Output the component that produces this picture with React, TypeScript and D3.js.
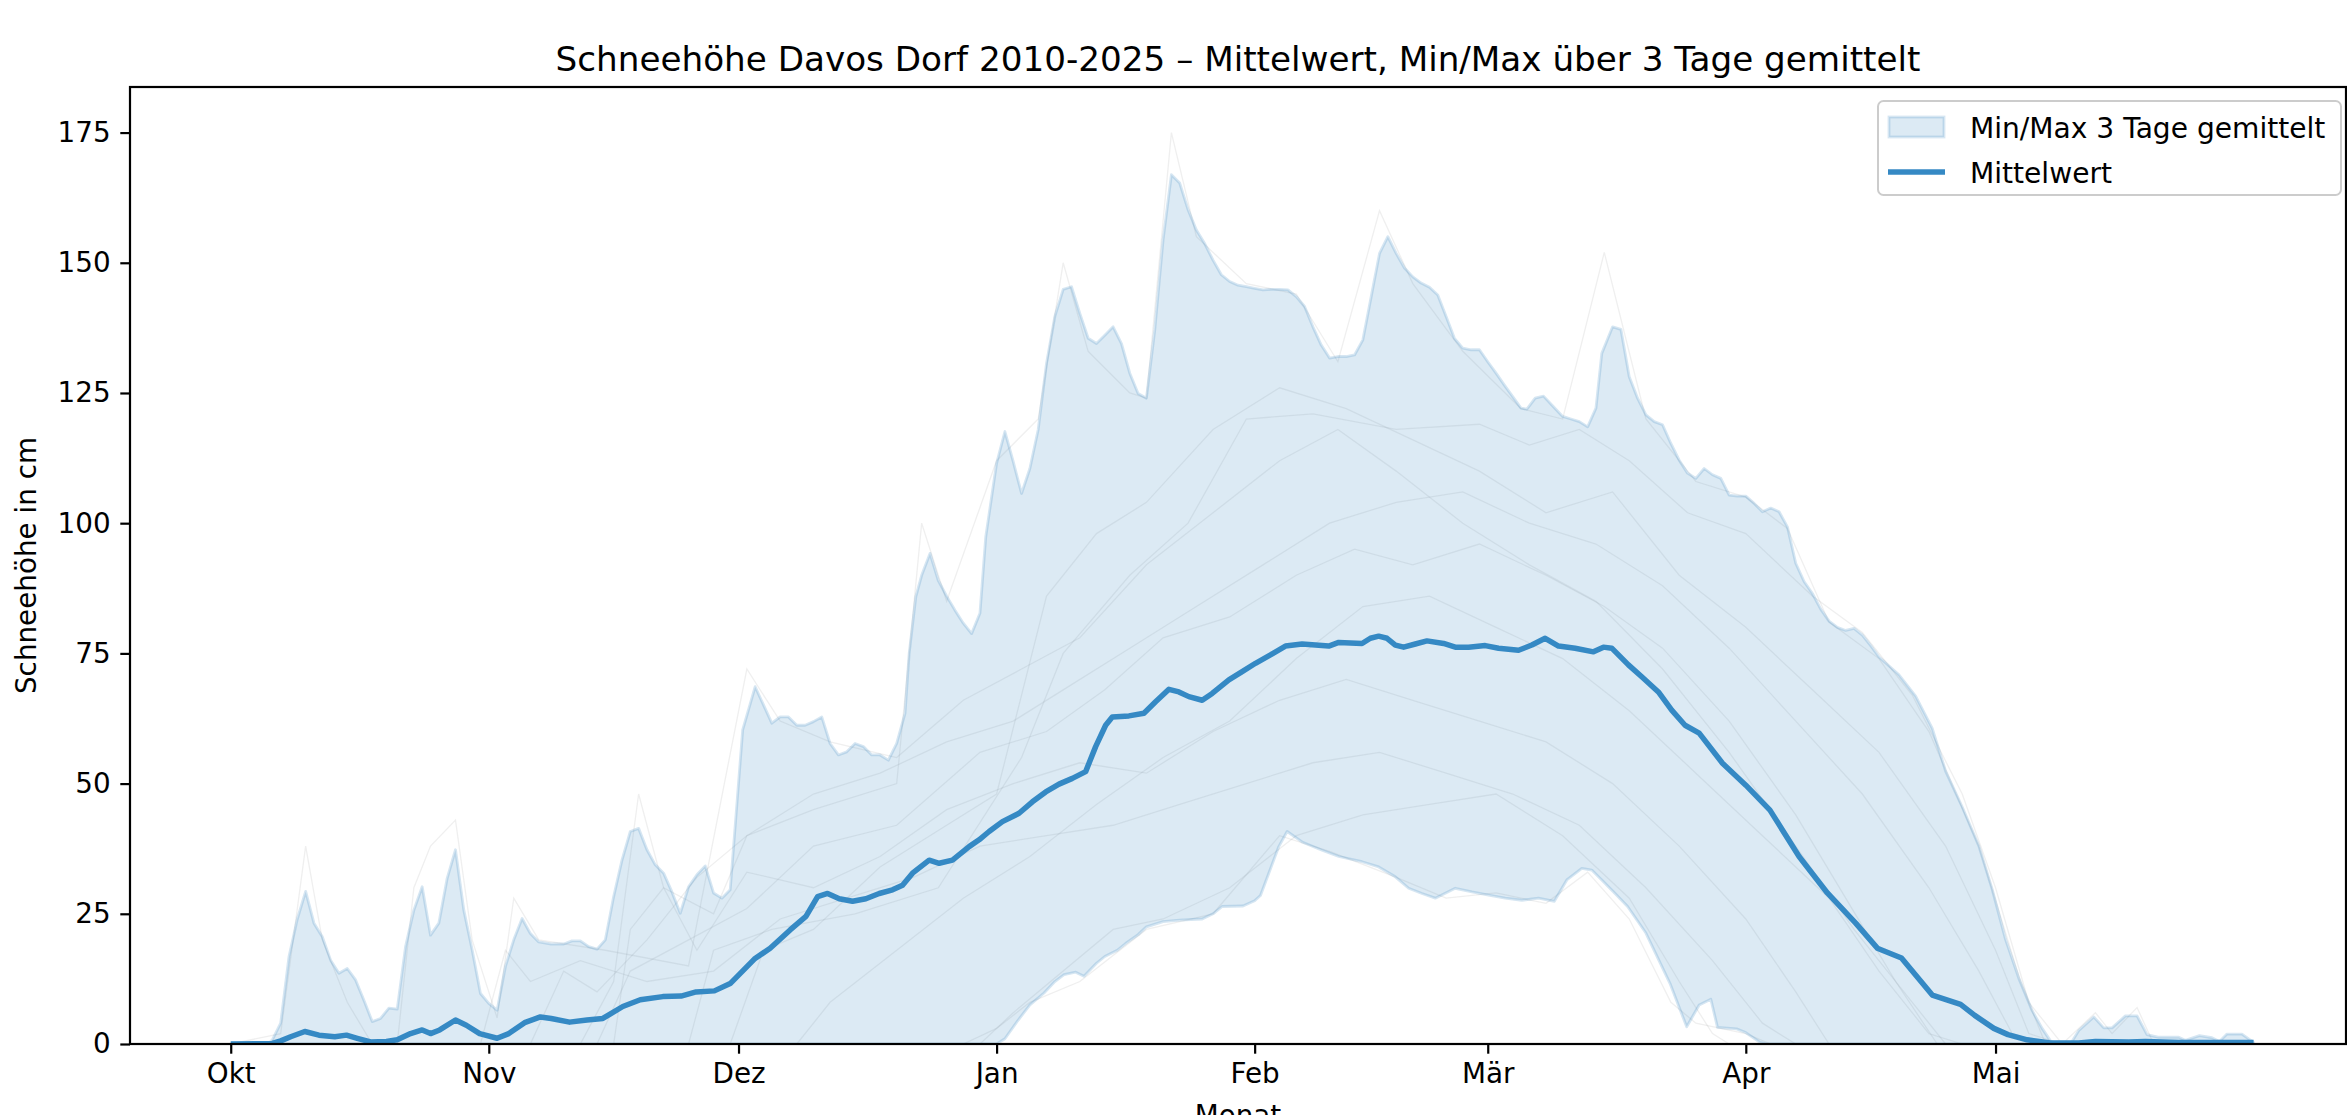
import React, { useEffect, useRef } from 'react';
import * as d3 from 'd3';

// x values are days since 1 October, y values snow depth in cm
const monthLabels = ['Okt', 'Nov', 'Dez', 'Jan', 'Feb', 'Mär', 'Apr', 'Mai'];
const monthStartDays = [0, 31, 61, 92, 123, 151, 182, 212];
const yTicks = [0, 25, 50, 75, 100, 125, 150, 175];

const maxBand: [number, number][] = [
  [0, 0], [4.5, 0], [5, 0.8], [6, 4], [7, 16.8], [8, 24], [9, 29.3], [10, 23.2], [11, 20.6], [12, 16.1],
  [13, 13.6], [14, 14.5], [15, 12.3], [16, 8.4], [17, 4.3], [18, 4.9], [19, 6.9], [20, 6.7], [21, 18.7],
  [22, 25.7], [23, 30.2], [24, 20.9], [25, 23.2], [26, 31.8], [27, 37.3], [28, 25.7], [29, 18.1], [30, 9.7],
  [31, 7.8], [32, 6.5], [33, 14.9], [34, 20], [35, 24.1], [36, 21.2], [37, 19.6], [38.5, 19.2], [40, 19.2],
  [41, 19.8], [42, 19.8], [43, 18.7], [44, 18.2], [45, 20], [46, 28.3], [47, 35.3], [48, 40.8], [49, 41.4],
  [50, 37.3], [51, 34.4], [52, 32.8], [53, 29.2], [54, 25.1], [55, 30.2], [56, 32.5], [57, 34.2], [58, 29],
  [59, 28], [60, 29.6], [61.5, 60.3], [63, 68.6], [64, 65.1], [65, 61.6], [66, 62.8], [67, 62.8], [68, 61.2],
  [69, 61.2], [70, 61.9], [71, 62.8], [72, 57.7], [73, 55.5], [74, 56.1], [75, 57.7], [76, 57.1], [77, 55.5],
  [78, 55.5], [79, 54.5], [80, 57.7], [81, 63.5], [81.5, 75], [82.3, 85.9], [83, 90], [84, 94.2], [85, 89],
  [86, 86], [87, 83.3], [88, 80.8], [89, 78.8], [90, 82.7], [90.7, 97.4], [92, 111.5], [93, 117.6],
  [94, 111.8], [95, 105.7], [96, 110.5], [97, 118], [98, 130.7], [99, 139.7], [100, 144.9], [101, 145.4],
  [102, 140.3], [103, 135.5], [104, 134.5], [105, 136.1], [106, 137.7], [107, 134.5], [108, 128.8],
  [109, 124.9], [110, 124], [111, 137.1], [112, 154.4], [113, 166.9], [114, 165.3], [115, 160.2],
  [116, 156.3], [117, 153.7], [118, 150.5], [119, 147.7], [120, 146.4], [121, 145.7], [122, 145.4],
  [123, 145.1], [124, 144.8], [125, 144.9], [126, 144.9], [127, 144.8], [128, 143.5], [129, 141.6],
  [130, 137.7], [131, 134.2], [132, 131.7], [133, 132], [134, 132], [135, 132.3], [136, 135.2], [137, 143.5],
  [138, 151.8], [139, 155], [140, 151.8], [141, 149], [142, 147.3], [143, 146.1], [144, 145.3], [145, 143.8],
  [146, 139.7], [147, 135.5], [148, 133.6], [149, 133.3], [150, 133.3], [151, 131], [152, 128.8],
  [153, 126.5], [154, 124.3], [155, 122.1], [155.7, 121.9], [156.7, 124], [157.7, 124.4], [158.7, 122.7],
  [160, 120.5], [161, 120], [162, 119.5], [163, 118.5], [164, 122.1], [164.7, 132.6], [166, 137.7],
  [167, 137.2], [168, 128.1], [169, 124], [170, 120.8], [171, 119.5], [172, 118.9], [173, 115.3],
  [174, 112.1], [175, 109.6], [176, 108.6], [177, 110.5], [178, 109.3], [179, 108.6], [180, 105.4],
  [181, 105.2], [182, 105.2], [183, 103.8], [184, 102.2], [185, 102.9], [186, 102.2], [187, 99.3],
  [188, 92.3], [189, 88.8], [190, 86.5], [191, 83.5], [192, 81.2], [193, 80], [194, 79.4], [195, 79.8],
  [196, 78.5], [197, 76.5], [198, 74.3], [200.4, 70.9], [202.4, 66.8], [204.4, 60.6], [206, 52.4],
  [208, 45.5], [210, 38], [211.6, 29.7], [213.2, 20.1], [214.8, 12.6], [216.4, 6.4], [217.6, 3],
  [218.6, 0.6], [219, 0], [221, 0], [222, 2.6], [223.8, 5.2], [225, 3.1], [226, 3.1], [227.6, 5.4],
  [229, 5.4], [230.2, 1.8], [231.5, 1.3], [234, 1.3], [234.8, 0.7], [236.5, 1.6], [238, 1.2], [238.9, 0.5],
  [239.8, 1.9], [241.6, 1.9], [243, 0.3],
];

const minBand: [number, number][] = [
  [0, 0], [92, 0], [93, 1], [94.6, 4.6], [96, 7.5], [97.7, 9.8], [99, 12], [100.1, 13.3], [101.5, 13.8],
  [102.5, 13], [104, 15.5], [105, 16.8], [106.5, 18], [107.5, 19.3], [109, 21], [110, 22.5], [112, 23.5],
  [114, 23.8], [116.7, 24], [118, 25], [119.1, 26.4], [121.6, 26.5], [123, 27.5], [123.7, 28.5],
  [124.7, 32.8], [125.9, 37.9], [126.9, 40.8], [128.7, 38.8], [131.1, 37.2], [133.1, 36], [135.9, 35],
  [137.9, 34], [139.9, 32.1], [141.5, 29.9], [143.1, 28.9], [144.7, 28], [147.1, 29.9], [149.1, 29.2],
  [151.1, 28.6], [153.1, 28], [155.1, 27.6], [157.1, 28], [159, 27.4], [160.5, 31.5], [162.3, 33.7],
  [163.5, 33.4], [164.7, 31.5], [166.3, 28.9], [167.8, 26.4], [170, 21.3], [172.9, 11.6], [174.9, 3.3],
  [176.4, 7.5], [177.8, 8.6], [178.6, 3.2], [180.9, 2.9], [182, 2.2], [183.7, 0.3], [184.5, 0], [243, 0],
];

const meanLine: [number, number][] = [
  [0, 0], [5, 0.1], [6, 0.6], [7.2, 1.4], [8.9, 2.4], [10.6, 1.7], [12.5, 1.4], [13.9, 1.7], [15.2, 1.1],
  [16.8, 0.4], [18.7, 0.5], [20, 0.8], [21.6, 2], [23, 2.7], [24, 2], [25.1, 2.7], [27, 4.6], [28.3, 3.6],
  [29.9, 2], [32, 1.1], [33.4, 2], [35.3, 4.1], [37.2, 5.2], [38.5, 4.9], [40.7, 4.2], [42.8, 4.6],
  [44.7, 4.9], [47.1, 7.2], [49.2, 8.5], [51.9, 9.1], [54.1, 9.2], [55.9, 10], [58.1, 10.2], [60, 11.6],
  [62.9, 16.3], [64.8, 18.4], [67.2, 21.9], [69.1, 24.5], [70.5, 28.3], [71.7, 28.9], [73.1, 27.9],
  [74.7, 27.4], [76.3, 27.9], [77.9, 28.9], [79.5, 29.6], [80.7, 30.5], [81.9, 32.8], [83.9, 35.3],
  [85.1, 34.7], [86.7, 35.3], [88.7, 37.9], [89.9, 39.2], [91.1, 40.8], [92.7, 42.7], [94.7, 44.3],
  [96.3, 46.5], [97.9, 48.4], [99.5, 49.9], [101.1, 51], [102.7, 52.3], [103.9, 57.1], [105.1, 61.2],
  [105.9, 62.8], [107.9, 63], [109.7, 63.5], [111.1, 65.7], [112.7, 68.1], [113.9, 67.6], [115.1, 66.7],
  [116.7, 66], [117.9, 67.3], [119.9, 69.9], [121.5, 71.5], [123.1, 73.1], [124.9, 74.7], [126.7, 76.4],
  [128.7, 76.8], [131.9, 76.4], [133.1, 77.1], [135.9, 76.9], [136.9, 77.9], [137.9, 78.3], [138.9, 77.9],
  [139.9, 76.6], [140.9, 76.2], [142.3, 76.8], [143.7, 77.4], [145.7, 76.9], [147.1, 76.2], [148.7, 76.2],
  [150.7, 76.5], [152.3, 76], [154.7, 75.6], [156.3, 76.6], [157.9, 77.9], [159.5, 76.4], [161.5, 76],
  [163.7, 75.3], [164.9, 76.2], [165.9, 76], [167.9, 72.8], [169.5, 70.5], [171.5, 67.6], [173.1, 64.1],
  [174.7, 61.2], [176.4, 59.7], [179.2, 53.9], [182, 49.7], [184.9, 44.9], [188.4, 36], [191.8, 29],
  [195.2, 23.2], [197.8, 18.4], [200.7, 16.5], [204.4, 9.4], [207.8, 7.6], [209.5, 5.5], [211.8, 3],
  [213.5, 1.8], [215.8, 0.8], [218.6, 0.2], [222, 0.2], [224, 0.5], [228, 0.4], [230, 0.5], [234, 0.3],
  [238, 0.3], [243, 0.3],
];

// single winters, faint in the background (rough estimates)
const seasonA: [number, number][] = [[0, 0], [42, 0], [46, 12], [49, 48], [52, 30], [58, 25], [62, 40], [70, 45], [80, 50], [83, 100], [86, 85], [92, 112], [97, 120], [100, 150], [103, 133], [108, 125], [110, 124], [113, 175], [116, 155], [122, 146], [128, 144], [133, 131], [138, 160], [142, 146], [148, 133], [155, 122], [160, 120], [165, 152], [170, 120], [176, 108], [182, 105], [187, 99], [192, 81], [198, 74], [204, 60], [210, 38], [215, 12], [218, 0], [243, 0]];
const seasonB: [number, number][] = [[0, 0], [55, 0], [58, 18], [65, 22], [75, 25], [85, 30], [95, 55], [100, 75], [108, 90], [115, 100], [122, 120], [130, 121], [140, 118], [150, 119], [156, 115], [162, 118], [168, 112], [175, 102], [182, 98], [190, 86], [196, 79], [202, 67], [208, 48], [212, 30], [216, 8], [220, 0], [224, 6], [226, 2], [229, 7], [231, 0], [243, 0]];
const seasonC: [number, number][] = [[0, 0], [88, 0], [92, 3], [96, 8], [102, 12], [110, 22], [118, 25], [126, 40], [132, 37], [140, 32], [146, 28], [152, 29], [158, 27], [163, 33], [168, 24], [173, 8], [176, 4], [182, 2], [185, 0], [243, 0]];
const seasonD: [number, number][] = [[0, 0], [6, 2], [9, 38], [11, 20], [14, 8], [17, 0], [44, 0], [48, 14], [55, 20], [62, 26], [70, 38], [80, 42], [90, 56], [98, 60], [105, 68], [112, 78], [120, 82], [128, 90], [135, 95], [142, 92], [150, 96], [158, 90], [165, 84], [172, 76], [180, 62], [188, 44], [194, 28], [200, 12], [205, 0], [243, 0]];
const seasonE: [number, number][] = [[0, 0], [20, 0], [22, 30], [24, 38], [27, 43], [29, 20], [32, 5], [34, 28], [37, 20], [45, 18], [55, 15], [62, 72], [66, 62], [72, 58], [80, 55], [88, 66], [95, 72], [102, 78], [110, 92], [118, 102], [126, 112], [133, 118], [140, 110], [148, 100], [156, 92], [164, 85], [172, 72], [180, 56], [188, 38], [195, 22], [202, 8], [206, 0], [243, 0]];
const seasonF: [number, number][] = [[0, 0], [46, 0], [48, 22], [52, 30], [56, 18], [62, 33], [70, 30], [78, 36], [86, 45], [94, 50], [102, 54], [110, 52], [118, 60], [126, 66], [134, 70], [142, 66], [150, 62], [158, 58], [166, 50], [174, 38], [182, 24], [188, 10], [192, 0], [243, 0]];
const seasonG: [number, number][] = [[0, 0], [68, 0], [72, 8], [80, 18], [88, 28], [96, 36], [104, 46], [112, 55], [120, 62], [128, 74], [136, 84], [144, 86], [152, 80], [160, 74], [168, 64], [176, 52], [184, 40], [192, 28], [198, 14], [204, 2], [208, 0], [243, 0]];
const seasonH: [number, number][] = [[0, 0], [60, 0], [64, 18], [70, 22], [78, 34], [86, 42], [92, 48], [98, 86], [104, 98], [110, 104], [118, 118], [126, 126], [134, 122], [142, 116], [150, 110], [158, 102], [166, 106], [174, 90], [182, 80], [190, 68], [198, 56], [206, 38], [212, 18], [216, 2], [220, 0], [243, 0]];
const seasonI: [number, number][] = [[0, 0], [30, 0], [33, 18], [36, 12], [42, 16], [50, 12], [58, 14], [66, 24], [74, 28], [82, 32], [90, 38], [98, 40], [106, 42], [114, 46], [122, 50], [130, 54], [138, 56], [146, 52], [154, 48], [162, 42], [170, 30], [178, 16], [184, 4], [188, 0], [243, 0]];
const seasonJ: [number, number][] = [[0, 0], [90, 0], [94, 6], [100, 14], [106, 22], [112, 24], [120, 30], [128, 40], [136, 44], [144, 46], [152, 48], [160, 40], [168, 28], [174, 12], [178, 2], [180, 0], [243, 0]];
const seasonK: [number, number][] = [[0, 0], [36, 0], [40, 14], [44, 10], [50, 20], [56, 32], [62, 40], [70, 48], [78, 52], [86, 58], [94, 62], [100, 68], [108, 76], [116, 84], [124, 92], [132, 100], [140, 104], [148, 106], [156, 100], [164, 96], [172, 88], [180, 76], [188, 62], [196, 48], [204, 30], [210, 14], [214, 2], [218, 0], [243, 0]];
const seasons = [seasonA, seasonB, seasonC, seasonD, seasonE, seasonF, seasonG, seasonH, seasonI, seasonJ, seasonK];

const W = 2347;
const H = 1115;
const FONT = "'DejaVu Sans', sans-serif";
const BAND_BLUE = '#3182bd';
const MEAN_BLUE = '#3589c4';

const SnowChart = () => {
  const ref = useRef<SVGSVGElement>(null);

  useEffect(() => {
    document.body.style.margin = '0';
    document.body.style.overflow = 'hidden';

    const svg = d3.select(ref.current);
    svg.selectAll('*').remove();

    const left = 130, right = 2346, top = 87, bottom = 1044;

    const x = d3.scaleLinear().domain([-12.1, 254.1]).range([left, right]);
    const y = d3.scaleLinear().domain([0, 183.75]).range([bottom, top]);

    svg.append('rect').attr('width', W).attr('height', H).attr('fill', '#fff');

    svg.append('clipPath').attr('id', 'plot-clip')
      .append('rect')
      .attr('x', left).attr('y', top)
      .attr('width', right - left).attr('height', bottom - top);

    const plot = svg.append('g').attr('clip-path', 'url(#plot-clip)');

    const line = d3.line<[number, number]>()
      .x(d => x(d[0]))
      .y(d => y(d[1]));

    // single seasons
    plot.selectAll('.season')
      .data(seasons)
      .enter()
      .append('path')
      .attr('class', 'season')
      .attr('d', d => line(d))
      .attr('fill', 'none')
      .attr('stroke', '#808080')
      .attr('stroke-opacity', 0.13)
      .attr('stroke-width', 1.3);

    // min/max band: upper edge forward, lower edge back
    const bandPts = [...maxBand, ...minBand.slice().reverse()];
    plot.append('path')
      .attr('d', line(bandPts) + 'Z')
      .attr('fill', BAND_BLUE)
      .attr('fill-opacity', 0.17)
      .attr('stroke', BAND_BLUE)
      .attr('stroke-opacity', 0.2)
      .attr('stroke-width', 2.8)
      .attr('stroke-linejoin', 'round');

    plot.append('path')
      .attr('d', line(meanLine))
      .attr('fill', 'none')
      .attr('stroke', MEAN_BLUE)
      .attr('stroke-width', 5.5)
      .attr('stroke-linejoin', 'round');

    // axes
    const xAxis = svg.append('g')
      .attr('transform', `translate(0,${bottom})`)
      .call(d3.axisBottom(x)
        .tickValues(monthStartDays)
        .tickFormat((d, i) => monthLabels[i])
        .tickSize(9.7)
        .tickSizeOuter(0)
        .tickPadding(9.7));

    const yAxis = svg.append('g')
      .attr('transform', `translate(${left},0)`)
      .call(d3.axisLeft(y)
        .tickValues(yTicks)
        .tickFormat(d3.format('d'))
        .tickSize(9.7)
        .tickSizeOuter(0)
        .tickPadding(9.7));

    [xAxis, yAxis].forEach(g => {
      g.select('.domain').remove();
      g.selectAll('line').attr('stroke', '#000').attr('stroke-width', 2.2);
      g.selectAll('text')
        .attr('font-family', FONT)
        .attr('font-size', 27.8)
        .attr('fill', '#000');
    });

    svg.append('rect')
      .attr('x', left).attr('y', top)
      .attr('width', right - left).attr('height', bottom - top)
      .attr('fill', 'none')
      .attr('stroke', '#000')
      .attr('stroke-width', 2.2);

    // title and labels
    svg.append('text')
      .attr('x', (left + right) / 2).attr('y', 71)
      .attr('text-anchor', 'middle')
      .attr('font-family', FONT).attr('font-size', 34.2)
      .text('Schneehöhe Davos Dorf 2010-2025 – Mittelwert, Min/Max über 3 Tage gemittelt');

    svg.append('text')
      .attr('x', (left + right) / 2).attr('y', 1125)
      .attr('text-anchor', 'middle')
      .attr('font-family', FONT).attr('font-size', 27.8)
      .text('Monat');

    svg.append('text')
      .attr('transform', `translate(36,${(top + bottom) / 2}) rotate(-90)`)
      .attr('text-anchor', 'middle')
      .attr('font-family', FONT).attr('font-size', 27.8)
      .text('Schneehöhe in cm');

    // legend
    const lg = svg.append('g');
    lg.append('rect')
      .attr('x', 1878).attr('y', 101)
      .attr('width', 463).attr('height', 94)
      .attr('rx', 5.5)
      .attr('fill', '#fff').attr('fill-opacity', 0.8)
      .attr('stroke', '#cccccc').attr('stroke-width', 2);
    lg.append('rect')
      .attr('x', 1889).attr('y', 117)
      .attr('width', 55).attr('height', 20)
      .attr('fill', BAND_BLUE).attr('fill-opacity', 0.17)
      .attr('stroke', BAND_BLUE).attr('stroke-opacity', 0.2)
      .attr('stroke-width', 2.8);
    lg.append('line')
      .attr('x1', 1888).attr('x2', 1945)
      .attr('y1', 172).attr('y2', 172)
      .attr('stroke', MEAN_BLUE).attr('stroke-width', 5.5);
    lg.selectAll('.lg-text')
      .data(['Min/Max 3 Tage gemittelt', 'Mittelwert'])
      .enter()
      .append('text')
      .attr('x', 1970)
      .attr('y', (d, i) => 137.5 + i * 45.5)
      .attr('font-family', FONT).attr('font-size', 28.1)
      .text(d => d);
  }, []);

  return <svg ref={ref} width={W} height={H} style={{ display: 'block' }}></svg>;
};

export default function App() {
  return <SnowChart />;
}
